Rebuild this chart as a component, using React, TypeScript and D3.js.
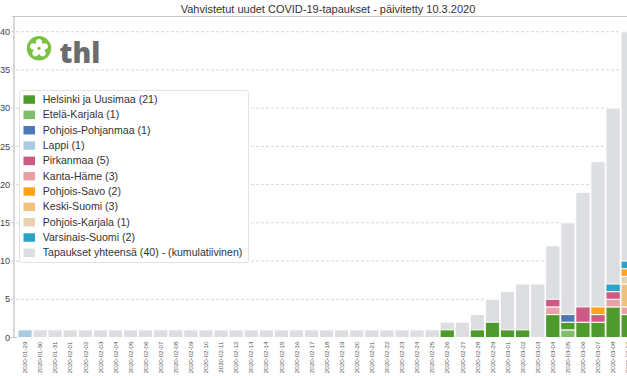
import React from "react";
import * as d3 from "d3";

const dates = [
  "2020-01-29", "2020-01-30", "2020-01-31", "2020-02-01", "2020-02-02", "2020-02-03", "2020-02-04",
  "2020-02-05", "2020-02-06", "2020-02-07", "2020-02-08", "2020-02-09", "2020-02-10", "2020-02-11",
  "2020-02-12", "2020-02-13", "2020-02-14", "2020-02-15", "2020-02-16", "2020-02-17", "2020-02-18",
  "2020-02-19", "2020-02-20", "2020-02-21", "2020-02-22", "2020-02-23", "2020-02-24", "2020-02-25",
  "2020-02-26", "2020-02-27", "2020-02-28", "2020-02-29", "2020-03-01", "2020-03-02", "2020-03-03",
  "2020-03-04", "2020-03-05", "2020-03-06", "2020-03-07", "2020-03-08", "2020-03-09",
];

const cumulative = [
  1, 1, 1, 1, 1, 1, 1, 1, 1, 1, 1, 1, 1, 1, 1, 1, 1, 1, 1, 1, 1, 1, 1, 1, 1, 1, 1, 1,
  2, 2, 3, 5, 6, 7, 7, 12, 15, 19, 23, 30, 40,
];

const helsinki = [
  0, 0, 0, 0, 0, 0, 0, 0, 0, 0, 0, 0, 0, 0, 0, 0, 0, 0, 0, 0, 0, 0, 0, 0, 0, 0, 0, 0,
  1, 0, 1, 2, 1, 1, 0, 3, 1, 2, 2, 4, 3,
];
const etelaKarjala = [
  0, 0, 0, 0, 0, 0, 0, 0, 0, 0, 0, 0, 0, 0, 0, 0, 0, 0, 0, 0, 0, 0, 0, 0, 0, 0, 0, 0,
  0, 0, 0, 0, 0, 0, 0, 0, 1, 0, 0, 0, 0,
];
const pohjoisPohjanmaa = [
  0, 0, 0, 0, 0, 0, 0, 0, 0, 0, 0, 0, 0, 0, 0, 0, 0, 0, 0, 0, 0, 0, 0, 0, 0, 0, 0, 0,
  0, 0, 0, 0, 0, 0, 0, 0, 1, 0, 0, 0, 0,
];
const lappi = [
  1, 0, 0, 0, 0, 0, 0, 0, 0, 0, 0, 0, 0, 0, 0, 0, 0, 0, 0, 0, 0, 0, 0, 0, 0, 0, 0, 0,
  0, 0, 0, 0, 0, 0, 0, 0, 0, 0, 0, 0, 0,
];
const pirkanmaa = [
  0, 0, 0, 0, 0, 0, 0, 0, 0, 0, 0, 0, 0, 0, 0, 0, 0, 0, 0, 0, 0, 0, 0, 0, 0, 0, 0, 0,
  0, 0, 0, 0, 0, 0, 0, 1, 0, 2, 1, 1, 0,
];
const kantaHame = [
  0, 0, 0, 0, 0, 0, 0, 0, 0, 0, 0, 0, 0, 0, 0, 0, 0, 0, 0, 0, 0, 0, 0, 0, 0, 0, 0, 0,
  0, 0, 0, 0, 0, 0, 0, 1, 0, 0, 0, 1, 1,
];
const pohjoisSavo = [
  0, 0, 0, 0, 0, 0, 0, 0, 0, 0, 0, 0, 0, 0, 0, 0, 0, 0, 0, 0, 0, 0, 0, 0, 0, 0, 0, 0,
  0, 0, 0, 0, 0, 0, 0, 0, 0, 0, 1, 0, 1,
];
const keskiSuomi = [
  0, 0, 0, 0, 0, 0, 0, 0, 0, 0, 0, 0, 0, 0, 0, 0, 0, 0, 0, 0, 0, 0, 0, 0, 0, 0, 0, 0,
  0, 0, 0, 0, 0, 0, 0, 0, 0, 0, 0, 0, 3,
];
const pohjoisKarjala = [
  0, 0, 0, 0, 0, 0, 0, 0, 0, 0, 0, 0, 0, 0, 0, 0, 0, 0, 0, 0, 0, 0, 0, 0, 0, 0, 0, 0,
  0, 0, 0, 0, 0, 0, 0, 0, 0, 0, 0, 0, 1,
];
const varsinaisSuomi = [
  0, 0, 0, 0, 0, 0, 0, 0, 0, 0, 0, 0, 0, 0, 0, 0, 0, 0, 0, 0, 0, 0, 0, 0, 0, 0, 0, 0,
  0, 0, 0, 0, 0, 0, 0, 0, 0, 0, 0, 1, 1,
];

const regionNames = [
  "Helsinki ja Uusimaa", "Etelä-Karjala", "Pohjois-Pohjanmaa", "Lappi", "Pirkanmaa",
  "Kanta-Häme", "Pohjois-Savo", "Keski-Suomi", "Pohjois-Karjala", "Varsinais-Suomi",
];
const regionValues = [
  helsinki, etelaKarjala, pohjoisPohjanmaa, lappi, pirkanmaa,
  kantaHame, pohjoisSavo, keskiSuomi, pohjoisKarjala, varsinaisSuomi,
];
const regionColors = [
  "#4f9a2d", "#80bb6e", "#4d78b6", "#a8cde2", "#cc5a82",
  "#e8a1a5", "#ffa31a", "#efc37e", "#e6d3b2", "#2aa3c9",
];
// order in which daily cases are stacked from the bottom up
const stackOrder = [
  "Etelä-Karjala", "Helsinki ja Uusimaa", "Kanta-Häme", "Pirkanmaa", "Keski-Suomi",
  "Pohjois-Karjala", "Pohjois-Savo", "Pohjois-Pohjanmaa", "Varsinais-Suomi", "Lappi",
];
const cumulativeName = "Tapaukset yhteensä";
const cumulativeColor = "#dcdee1";
const yTicks = [0, 5, 10, 15, 20, 25, 30, 35, 40];
const title = "Vahvistetut uudet COVID-19-tapaukset - päivitetty 10.3.2020";

const W = 627;
const H = 376;

export default function App() {
  React.useEffect(() => {
    document.body.style.margin = "0";
  }, []);

  const x = d3
    .scaleBand<string>()
    .domain(dates)
    .range([17.46, 17.46 + dates.length * 15.08])
    .paddingInner(0.05)
    .paddingOuter(0.025);
  const y = d3.scaleLinear().domain([0, 40]).range([337.5, 31.7]);

  const table = dates.map((d, i) => {
    const row: Record<string, any> = { date: d };
    regionNames.forEach((n, k) => (row[n] = regionValues[k][i]));
    return row;
  });
  const stacked = d3.stack<any>().keys(stackOrder)(table);
  const colorOf = (name: string) => regionColors[regionNames.indexOf(name)];

  const legendItems = [
    ...regionNames.map((n, k) => ({
      label: `${n} (${d3.sum(regionValues[k])})`,
      color: regionColors[k],
    })),
    {
      label: `${cumulativeName} (${d3.max(cumulative)}) - (kumulatiivinen)`,
      color: cumulativeColor,
    },
  ];

  const font = "'Liberation Sans', Arial, sans-serif";
  const bw = x.bandwidth();

  // flower petals for logo
  const petals = d3.range(5).map((k) => k * 72);

  return (
    <svg width={W} height={H} style={{ position: "absolute", left: 0, top: 0, display: "block" }}>
      <rect x={0} y={0} width={W} height={H} fill="#fff" />
      <text
        x={328}
        y={13}
        textAnchor="middle"
        fontFamily="'Liberation Sans Narrow', 'Arial Narrow', sans-serif"
        fontSize={11}
        fill="#333"
      >
        {title}
      </text>

      {/* grid */}
      {yTicks.filter((t) => t > 0).map((t) => (
        <line
          key={t}
          x1={11}
          x2={W}
          y1={y(t)}
          y2={y(t)}
          stroke="#d9d9d9"
          strokeDasharray="3,2"
          strokeWidth={1}
        />
      ))}

      {/* frame */}
      <line x1={12} x2={W} y1={16.5} y2={16.5} stroke="#c8c8c8" strokeWidth={1} />
      <line x1={14} x2={14} y1={16} y2={338} stroke="#c0c0c0" strokeWidth={1.2} />
      <line x1={10.5} x2={W} y1={337.5} y2={337.5} stroke="#c0c0c0" strokeWidth={1} />

      {/* y labels */}
      {yTicks.map((t) => (
        <text
          key={t}
          x={10.2}
          y={y(t)}
          dy="0.35em"
          textAnchor="end"
          fontFamily={font}
          fontSize={9.2}
          fill="#444"
        >
          {t}
        </text>
      ))}

      {/* cumulative bars */}
      {dates.map((d, i) => (
        <rect
          key={d}
          x={x(d)}
          y={y(cumulative[i])}
          width={bw}
          height={y(0) - y(cumulative[i])}
          fill={cumulativeColor}
          stroke="#fff"
          strokeWidth={1}
        />
      ))}

      {/* daily stacked bars */}
      {stacked.map((s) =>
        s.map((seg, i) =>
          seg[1] - seg[0] > 0 ? (
            <rect
              key={s.key + i}
              x={x(dates[i])}
              y={y(seg[1])}
              width={bw}
              height={y(seg[0]) - y(seg[1])}
              fill={colorOf(s.key)}
              stroke="#fff"
              strokeWidth={1}
            />
          ) : null
        )
      )}

      {/* x labels */}
      {dates.map((d) => {
        const cx = (x(d) as number) + bw / 2;
        return (
          <text
            key={d}
            transform={`translate(${cx + 2.2},${341.5}) rotate(-90)`}
            textAnchor="end"
            fontFamily={font}
            fontSize={6.2}
            fill="#555"
          >
            {d}
          </text>
        );
      })}

      {/* logo */}
      <g>
        <circle cx={39} cy={48.3} r={12.2} fill="#7dc142" />
        {petals.map((a) => (
          <ellipse
            key={a}
            cx={39}
            cy={48.3 - 5}
            rx={3.2}
            ry={4.3}
            fill="#fff"
            transform={`rotate(${a},39,48.3)`}
          />
        ))}
        <circle cx={39} cy={48.3} r={1.6} fill="#7dc142" />
        <text
          x={59.5}
          y={62.5}
          fontFamily="'Open Sans', sans-serif"
          fontWeight={800}
          fontSize={28}
          fill="#6b6c6e"
        >
          thl
        </text>
      </g>

      {/* legend */}
      <g>
        <rect x={19.5} y={90.5} width={229} height={172} rx={2} fill="#fff" stroke="#e3e3e3" />
        {legendItems.map((it, k) => {
          const cy = 99.3 + k * 15.33;
          return (
            <g key={it.label}>
              <rect x={23.5} y={cy - 4} width={11.5} height={8.5} fill={it.color} />
              <text x={42.7} y={cy} dy="0.36em" fontFamily={font} fontSize={10.6} fill="#333">
                {it.label}
              </text>
            </g>
          );
        })}
      </g>
    </svg>
  );
}
